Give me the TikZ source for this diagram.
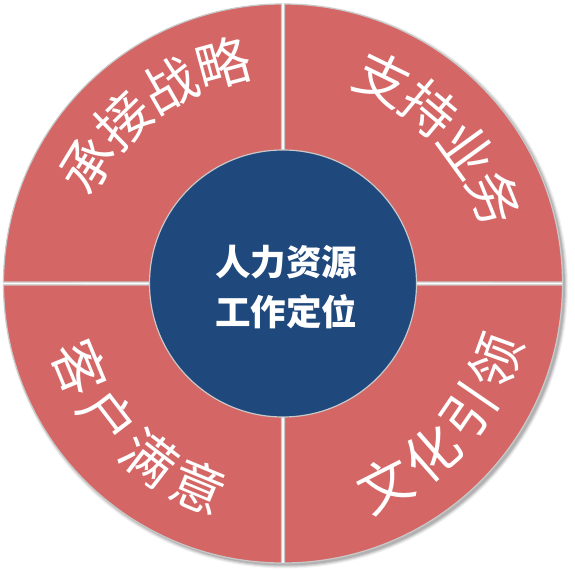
\documentclass[tikz,border=0pt]{standalone}
\usepackage{fontspec}
\newfontfamily\cjk{Noto Sans CJK SC}
\usetikzlibrary{calc}
\definecolor{ringred}{RGB}{212,102,101}
\definecolor{coreblue}{RGB}{31,73,125}
\definecolor{edgegray}{RGB}{200,200,200}
\tikzset{
  sectorbox/.style={fill=ringred, draw=edgegray, line width=1.2pt},
  ringtxt/.style={text=white, font=\cjk\fontsize{54}{54}\selectfont, inner sep=0pt, anchor=center},
  coretxt/.style={text=white, font=\cjk\bfseries\fontsize{35.5}{50}\selectfont, align=center, inner sep=0pt}
}
\begin{document}
\begin{tikzpicture}[x=1pt,y=1pt]
\useasboundingbox (0,0) rectangle (575,576);
\fill[white] (0,0) rectangle (575,576);
\coordinate (c) at (283,292.5);
% soft shadow
\foreach \k/\op in {3/0.05,2/0.07,1/0.09,0/0.12}
  \fill[black,opacity=\op] ($(c)+(2.5,-2.5)$) circle (279.5+\k);
\fill[white] (c) circle (279.5);
% sectors
\fill[sectorbox] ($(c)+(1.6,1.6)$) -- ($(c)+(89.7:279.5)$) arc[start angle=89.7, end angle=0.3, radius=279.5] -- cycle;
\fill[sectorbox] ($(c)+(-1.6,1.6)$) -- ($(c)+(90.3:279.5)$) arc[start angle=90.3, end angle=179.7, radius=279.5] -- cycle;
\fill[sectorbox] ($(c)+(-1.6,-1.6)$) -- ($(c)+(180.3:279.5)$) arc[start angle=180.3, end angle=269.7, radius=279.5] -- cycle;
\fill[sectorbox] ($(c)+(1.6,-1.6)$) -- ($(c)+(270.3:279.5)$) arc[start angle=270.3, end angle=359.7, radius=279.5] -- cycle;
% core
\node[circle, fill=coreblue, draw=edgegray, line width=1.2pt, minimum size=267pt, inner sep=0pt] (core) at (c) {};
\node[coretxt] (coretext) at ($(c)+(3,-3.5)$) {人力资源\\工作定位};
% ring texts
\foreach \ch/\ang [count=\i] in {承/148.75, 接/134.25, 战/119.75, 略/105.25}
  \node[ringtxt, rotate=\ang-90] (tl\i) at ($(c)+(\ang:228)$) {\ch};
\foreach \ch/\ang [count=\i] in {支/64, 持/50, 业/36, 务/22}
  \node[ringtxt, rotate=\ang-90] (tr\i) at ($(c)+(\ang:228)$) {\ch};
\foreach \ch/\ang [count=\i] in {文/-63, 化/-48.7, 引/-34.4, 领/-20}
  \node[ringtxt, rotate=\ang+90] (br\i) at ($(c)+(\ang:226)$) {\ch};
\foreach \ch/\ang [count=\i] in {客/-157.5, 户/-142.5, 满/-127.5, 意/-112.5}
  \node[ringtxt, rotate=\ang+90] (bl\i) at ($(c)+(\ang:220)$) {\ch};
\end{tikzpicture}
\end{document}
